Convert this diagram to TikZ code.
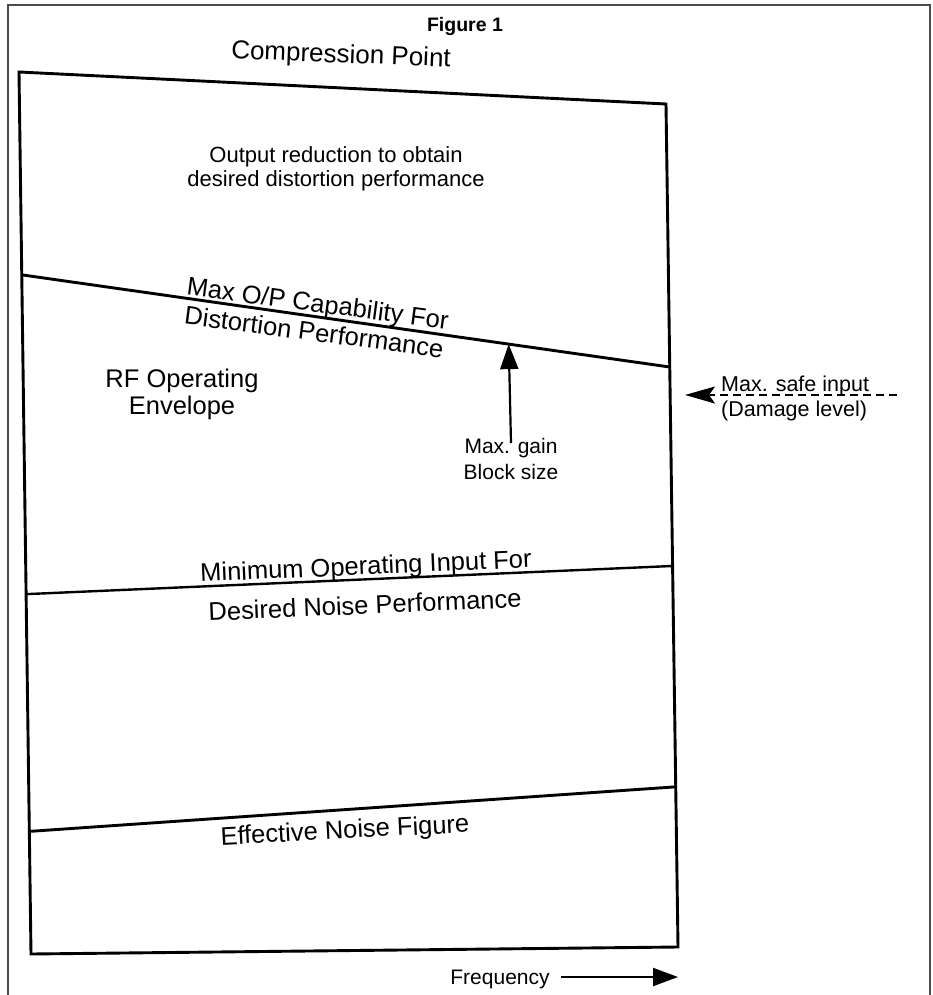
\documentclass[tikz,border=0pt]{standalone}
\usepackage{fontspec}
\setmainfont{Liberation Sans}
\usetikzlibrary{arrows.meta,calc}
\begin{document}
\begin{tikzpicture}[x=1pt,y=-1pt,
  frame/.style={line width=1.3pt, draw=black!70},
  boxline/.style={line width=2.9pt, line join=miter},
  divline/.style={line width=2.9pt},
  big/.style={font=\fontsize{25.5}{29}\selectfont, inner sep=0pt, align=center},
  small/.style={font=\fontsize{21.5}{25}\selectfont, inner sep=0pt, align=center},
  tri/.style={line width=2.2pt, -{Triangle[length=25pt,width=18pt]}},
  safe/.style={line width=2.2pt, dash pattern=on 8pt off 5pt, -{Stealth[length=30pt,width=17pt,inset=6pt]}}]
\useasboundingbox (0,0) rectangle (933,995);
% outer frame
\draw[frame] (8,995) -- (8,5) -- (930,5) -- (930,995);
% box corners
\coordinate (TL) at (19,72);
\coordinate (TR) at (666,104);
\coordinate (BR) at (678,947);
\coordinate (BL) at (31,954);
\draw[boxline] (TL) -- (TR) -- (BR) -- (BL) -- cycle;
% dividing lines
\coordinate (L1) at ($(TL)!0.230!(BL)$);
\coordinate (R1) at ($(TR)!0.312!(BR)$);
\coordinate (L2) at ($(TL)!0.592!(BL)$);
\coordinate (R2) at ($(TR)!0.548!(BR)$);
\coordinate (L3) at ($(TL)!0.861!(BL)$);
\coordinate (R3) at ($(TR)!0.810!(BR)$);
\draw[divline] (L1) -- (R1);
\draw[line width=2.4pt] (L2) -- (R2);
\draw[divline] (L3) -- (R3);
% texts
\node[font=\fontsize{19.5}{22}\selectfont\bfseries, inner sep=0pt] (fig) at (465,27) {Figure 1};
\node[font=\fontsize{26}{30}\selectfont, inner sep=0pt, rotate=-2.2] (comp) at (341,56) {Compression Point};
\node[small, font=\fontsize{22}{24}\selectfont] (outred) at (336,169) {Output reduction to obtain\\desired distortion performance};
\node[big, rotate=-7.5] (maxop) at (316,317.5) {Max O/P Capability For\\Distortion Performance};
\node[big, font=\fontsize{25.5}{27}\selectfont] (rf) at (182,394) {RF Operating\\Envelope};
\node[small, font=\fontsize{21}{26}\selectfont] (gain) at (511,459) {Max. gain\\Block size};
\node[small, align=left, anchor=west] (safe) at (721,398) {Max. safe input\\(Damage level)};
\node[big, rotate=2.5] (minop) at (366,568) {Minimum Operating Input For};
\node[big, rotate=2.5] (desn) at (365,605) {Desired Noise Performance};
\node[big, rotate=3] (enf) at (345,832) {Effective Noise Figure};
\node[small, font=\fontsize{21}{24}\selectfont] (freq) at (500,979) {Frequency};
% arrows
\coordinate (gaintip) at ($(L1)!0.7515!(R1)$);
\draw[tri] ([yshift=-5pt]gain.north) -- (gaintip);
\coordinate (freqtip) at (678,977);
\draw[tri] ([xshift=11pt]freq.east |- freqtip) -- (freqtip);
\coordinate (safestart) at (897,395);
\coordinate (safetip) at (685,395);
\draw[safe] (safestart) -- (safetip);
\end{tikzpicture}
\end{document}
